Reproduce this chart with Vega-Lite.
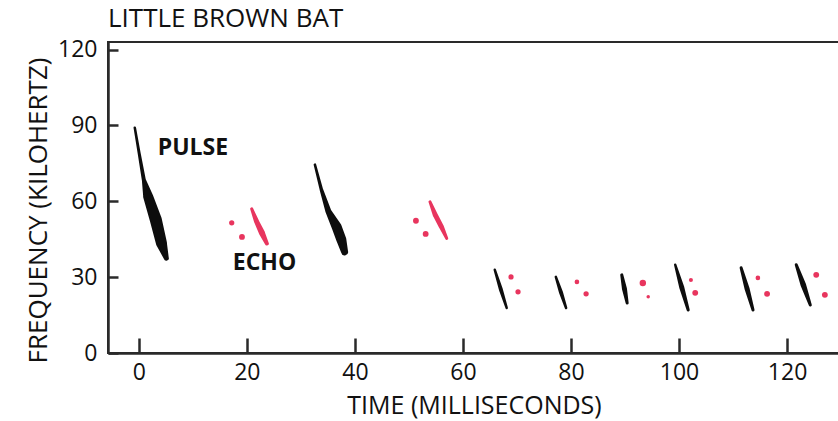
{
  "$schema": "https://vega.github.io/schema/vega-lite/v6.json",
  "width": 732,
  "height": 311,
  "autosize": {"type": "none"},
  "padding": {"left": 108, "top": 42, "right": 0, "bottom": 68},
  "background": "white",
  "config": {
    "font": "Open Sans",
    "view": {"stroke": "#2a2a2a", "strokeWidth": 2},
    "axis": {"grid": false}
  },
  "title": {
    "text": "LITTLE BROWN BAT",
    "anchor": "start",
    "frame": "group",
    "fontSize": 26,
    "fontWeight": "normal",
    "color": "#111",
    "offset": 7
  },
  "datasets": {
    "strokes": [
      {"id": "p1", "kind": "pulse", "t": -0.74, "f": 89.1, "intensity": 2.5},
      {"id": "p1", "kind": "pulse", "t": 0.06, "f": 79.1, "intensity": 3},
      {"id": "p1", "kind": "pulse", "t": 0.93, "f": 68.5, "intensity": 4},
      {"id": "p1", "kind": "pulse", "t": 1.73, "f": 61.9, "intensity": 10},
      {"id": "p1", "kind": "pulse", "t": 3.15, "f": 52.7, "intensity": 12},
      {"id": "p1", "kind": "pulse", "t": 4.2, "f": 43.4, "intensity": 11},
      {"id": "p1", "kind": "pulse", "t": 5.1, "f": 37.5, "intensity": 5},
      {"id": "e1", "kind": "echo", "t": 20.9, "f": 57.0, "intensity": 3},
      {"id": "e1", "kind": "echo", "t": 21.8, "f": 52.0, "intensity": 5},
      {"id": "e1", "kind": "echo", "t": 22.8, "f": 47.5, "intensity": 6},
      {"id": "e1", "kind": "echo", "t": 23.7, "f": 43.3, "intensity": 4},
      {"id": "p2", "kind": "pulse", "t": 32.6, "f": 74.5, "intensity": 2.5},
      {"id": "p2", "kind": "pulse", "t": 33.8, "f": 64.6, "intensity": 3.5},
      {"id": "p2", "kind": "pulse", "t": 35.1, "f": 56.0, "intensity": 6},
      {"id": "p2", "kind": "pulse", "t": 36.6, "f": 50.0, "intensity": 10},
      {"id": "p2", "kind": "pulse", "t": 37.5, "f": 44.8, "intensity": 10},
      {"id": "p2", "kind": "pulse", "t": 38.1, "f": 40.0, "intensity": 7},
      {"id": "e2", "kind": "echo", "t": 53.9, "f": 59.8, "intensity": 3},
      {"id": "e2", "kind": "echo", "t": 54.9, "f": 54.5, "intensity": 5},
      {"id": "e2", "kind": "echo", "t": 56.0, "f": 50.0, "intensity": 5},
      {"id": "e2", "kind": "echo", "t": 57.0, "f": 45.3, "intensity": 3},
      {"id": "p3", "kind": "pulse", "t": 65.9, "f": 32.9, "intensity": 2.5},
      {"id": "p3", "kind": "pulse", "t": 67.0, "f": 25.3, "intensity": 4},
      {"id": "p3", "kind": "pulse", "t": 68.1, "f": 17.8, "intensity": 2.5},
      {"id": "p4", "kind": "pulse", "t": 77.2, "f": 30.1, "intensity": 2.5},
      {"id": "p4", "kind": "pulse", "t": 78.15, "f": 24.0, "intensity": 4},
      {"id": "p4", "kind": "pulse", "t": 79.1, "f": 17.8, "intensity": 2.5},
      {"id": "p5", "kind": "pulse", "t": 89.4, "f": 30.9, "intensity": 3},
      {"id": "p5", "kind": "pulse", "t": 89.9, "f": 25.4, "intensity": 5},
      {"id": "p5", "kind": "pulse", "t": 90.4, "f": 19.8, "intensity": 3},
      {"id": "p6", "kind": "pulse", "t": 99.3, "f": 34.9, "intensity": 2.5},
      {"id": "p6", "kind": "pulse", "t": 100.5, "f": 26.0, "intensity": 5},
      {"id": "p6", "kind": "pulse", "t": 101.7, "f": 17.0, "intensity": 3},
      {"id": "p7", "kind": "pulse", "t": 111.5, "f": 33.7, "intensity": 3},
      {"id": "p7", "kind": "pulse", "t": 112.6, "f": 25.4, "intensity": 5},
      {"id": "p7", "kind": "pulse", "t": 113.7, "f": 17.0, "intensity": 3},
      {"id": "p8", "kind": "pulse", "t": 121.7, "f": 34.9, "intensity": 3},
      {"id": "p8", "kind": "pulse", "t": 123.0, "f": 27.0, "intensity": 5.5},
      {"id": "p8", "kind": "pulse", "t": 124.3, "f": 19.0, "intensity": 3}
    ],
    "dots": [
      {"t": 17.2, "f": 51.5, "intensity": 4.5},
      {"t": 19.1, "f": 45.9, "intensity": 5},
      {"t": 51.3, "f": 52.3, "intensity": 5},
      {"t": 53.1, "f": 47.1, "intensity": 5},
      {"t": 68.9, "f": 30.1, "intensity": 4.5},
      {"t": 70.2, "f": 24.2, "intensity": 4.5},
      {"t": 81.1, "f": 28.1, "intensity": 4},
      {"t": 82.8, "f": 23.4, "intensity": 4.5},
      {"t": 93.3, "f": 27.7, "intensity": 5.5},
      {"t": 94.3, "f": 22.2, "intensity": 3},
      {"t": 102.2, "f": 28.9, "intensity": 3.5},
      {"t": 103.0, "f": 23.8, "intensity": 5},
      {"t": 114.6, "f": 29.7, "intensity": 4},
      {"t": 116.3, "f": 23.4, "intensity": 5},
      {"t": 125.4, "f": 30.9, "intensity": 5},
      {"t": 127.0, "f": 23.0, "intensity": 5}
    ],
    "labels": [
      {"label": "PULSE", "t": 3.5, "f": 81.2},
      {"label": "ECHO", "t": 17.4, "f": 35.6}
    ]
  },
  "encoding": {
    "x": {
      "field": "t",
      "type": "quantitative",
      "scale": {"domain": [-5.7, 129.8], "nice": false, "zero": false},
      "axis": {
        "values": [0, 20, 40, 60, 80, 100, 120],
        "title": "TIME (MILLISECONDS)",
        "titleFontSize": 25,
        "titleFontWeight": "normal",
        "titleColor": "#111",
        "titlePadding": 9,
        "labelFontSize": 23,
        "labelColor": "#111",
        "labelPadding": 23,
        "tickSize": -15,
        "tickWidth": 2.5,
        "tickColor": "#2a2a2a",
        "domainColor": "#2a2a2a",
        "domainWidth": 2.5
      }
    },
    "y": {
      "field": "f",
      "type": "quantitative",
      "scale": {"domain": [0, 123], "nice": false, "zero": true},
      "axis": {
        "values": [0, 30, 60, 90, 120],
        "title": "FREQUENCY (KILOHERTZ)",
        "titleFontSize": 26,
        "titleFontWeight": "normal",
        "titleColor": "#111",
        "titlePadding": 6,
        "titleY": 168,
        "labelFontSize": 23,
        "labelColor": "#111",
        "labelPadding": 21,
        "tickSize": -10,
        "tickWidth": 2.5,
        "tickColor": "#2a2a2a",
        "domainColor": "#2a2a2a",
        "domainWidth": 2.5
      }
    }
  },
  "layer": [
    {
      "data": {"name": "strokes"},
      "mark": {"type": "trail"},
      "encoding": {
        "detail": {"field": "id"},
        "order": {"field": "f", "sort": "descending"},
        "color": {
          "field": "kind",
          "type": "nominal",
          "scale": {"domain": ["pulse", "echo"], "range": ["#0d0d0d", "#e8355e"]},
          "legend": null
        },
        "size": {
          "field": "intensity",
          "type": "quantitative",
          "scale": {"domain": [0, 10], "range": [0, 10]},
          "legend": null
        }
      }
    },
    {
      "data": {"name": "dots"},
      "mark": {"type": "circle", "color": "#e8355e", "opacity": 1},
      "encoding": {
        "size": {
          "field": "intensity",
          "type": "quantitative",
          "scale": {"type": "pow", "exponent": 2, "domain": [0, 5], "range": [0, 34]},
          "legend": null
        }
      }
    },
    {
      "data": {"name": "labels"},
      "mark": {"type": "text", "align": "left", "baseline": "middle", "fontSize": 23, "fontWeight": "bold", "color": "#111"},
      "encoding": {"text": {"field": "label"}}
    }
  ],
  "resolve": {"scale": {"size": "independent"}}
}
